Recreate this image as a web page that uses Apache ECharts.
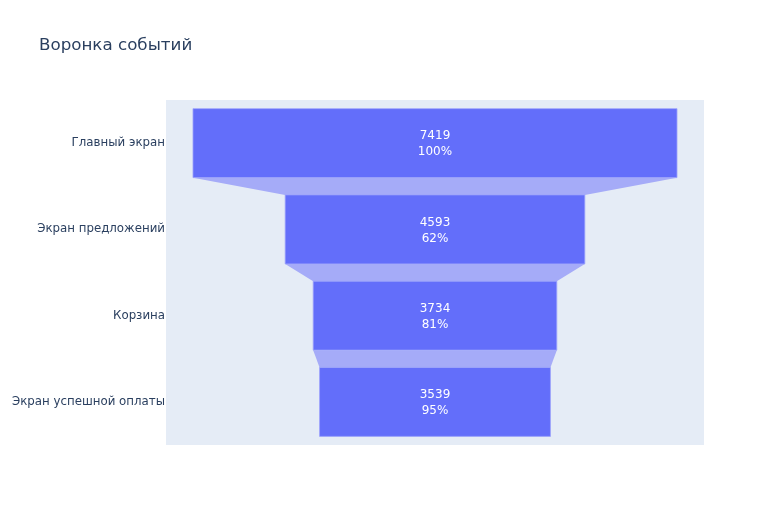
<!DOCTYPE html>
<html><head><meta charset="utf-8">
<script src="https://cdn.jsdelivr.net/npm/echarts@6/dist/echarts.min.js"></script>
<style>html,body{margin:0;padding:0;background:#fff}#c{width:783px;height:525px}</style>
</head><body><div id="c"></div>
<script>
const categories = ['Главный экран', 'Экран предложений', 'Корзина', 'Экран успешной оплаты'];
const values = [7419, 4593, 3734, 3539];
const percentPrevious = ['100%', '62%', '81%', '95%'];

const maxV = Math.max(...values);
const half = maxV / 2 * 1.1115;
const data = values.map((v, i) => [v, i, percentPrevious[i]]);

const chart = echarts.init(document.getElementById('c'));
chart.setOption({
  animation: false,
  backgroundColor: '#fff',
  title: {
    text: 'Воронка событий', left: 34, top: 32,
    textStyle: { fontFamily: 'DejaVu Sans', fontSize: 16.7, fontWeight: 'normal', color: '#2a3f5f' }
  },
  grid: { left: 166, right: 79, top: 100, bottom: 80, show: true, backgroundColor: '#E5ECF6', borderWidth: 0 },
  xAxis: { type: 'value', min: -half, max: half, show: false },
  yAxis: {
    type: 'category', data: categories, inverse: true,
    axisLine: { show: false }, axisTick: { show: false }, splitLine: { show: false },
    axisLabel: { fontFamily: 'DejaVu Sans', fontSize: 11.8, color: '#2a3f5f', margin: 1 }
  },
  series: [{
    type: 'custom',
    data: data,
    encode: { x: 0, y: 1 },
    renderItem: function (params, api) {
      const v = api.value(0), idx = api.value(1);
      const band = api.size([0, 1])[1];
      const h = band * 0.8;
      const l = api.coord([-v / 2, idx]);
      const r = api.coord([v / 2, idx]);
      const cy = l[1];
      const children = [];
      if (idx > 0) {
        const pv = values[idx - 1];
        const pl = api.coord([-pv / 2, idx - 1]);
        const pr = api.coord([pv / 2, idx - 1]);
        const py = pl[1] + h / 2;
        children.push({
          type: 'polygon',
          shape: { points: [[pl[0], py], [pr[0], py], [r[0], cy - h / 2], [l[0], cy - h / 2]] },
          style: { fill: '#a5abf8' }
        });
      }
      children.push({
        type: 'rect',
        shape: { x: l[0], y: cy - h / 2, width: r[0] - l[0], height: h },
        style: { fill: '#636efa', stroke: '#9ea5fb', lineWidth: 0.8 }
      });
      children.push({
        type: 'text',
        style: {
          x: (l[0] + r[0]) / 2, y: cy + 1, text: v + '\n' + percentPrevious[idx],
          align: 'center', verticalAlign: 'middle', fill: '#fff',
          font: '12px "DejaVu Sans"', lineHeight: 16
        }
      });
      return { type: 'group', children: children };
    }
  }]
});
</script></body></html>
